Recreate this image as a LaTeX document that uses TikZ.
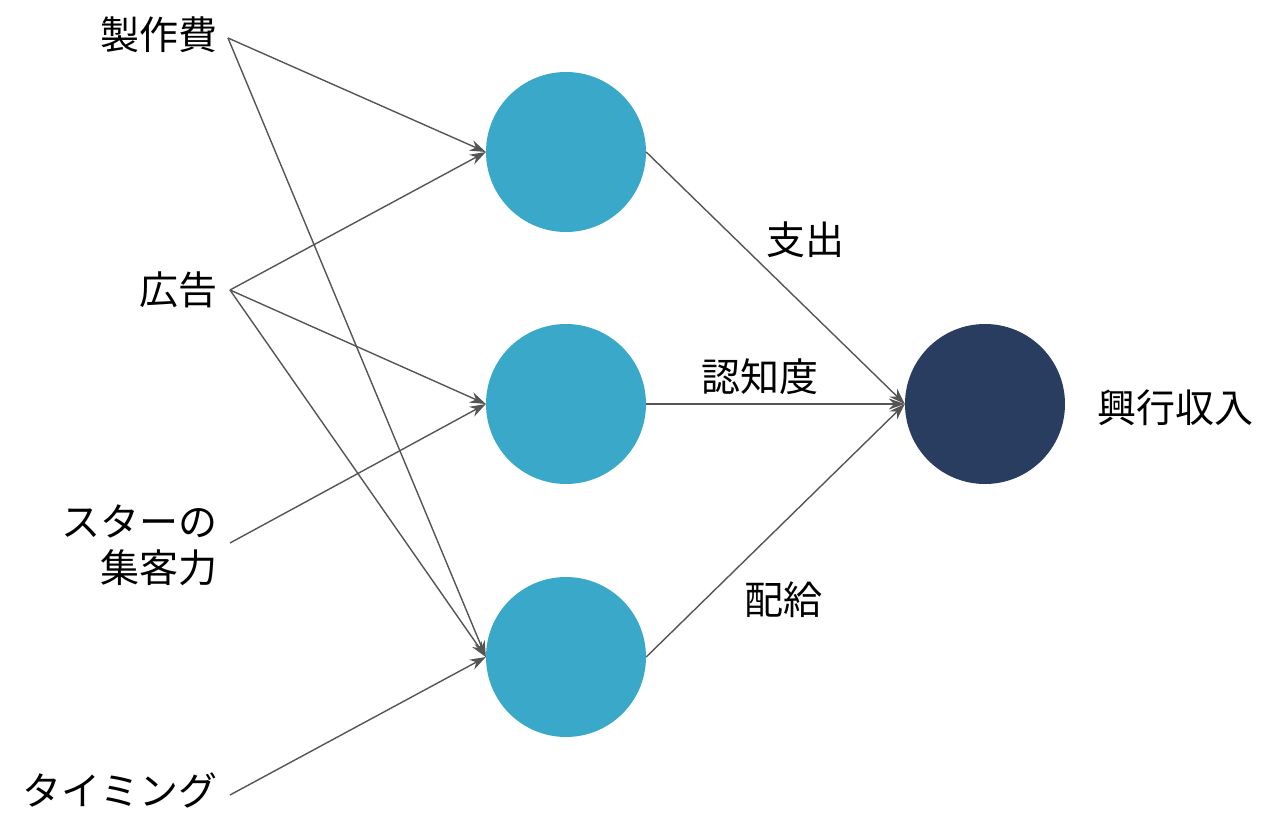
\documentclass[tikz,border=0pt]{standalone}
\usepackage{fontspec}
\setmainfont{Noto Sans CJK JP}
\usetikzlibrary{arrows.meta}
\definecolor{hidden}{HTML}{3AA8C8}
\definecolor{outc}{HTML}{283D5F}
\definecolor{edgec}{HTML}{555555}
\tikzset{
  unit/.style={circle, minimum size=160pt, inner sep=0pt},
  lbl/.style={font=\fontsize{39}{46}\selectfont, inner sep=0pt},
  conn/.style={-{Stealth[length=16pt,width=11pt]}, draw=edgec, line width=1.4pt}
}
\begin{document}
\begin{tikzpicture}[x=1pt,y=-1pt]
  \useasboundingbox (0,0) rectangle (1283,816);
  \node[unit, fill=hidden] (h1) at (566,152) {};
  \node[unit, fill=hidden] (h2) at (566,404) {};
  \node[unit, fill=hidden] (h3) at (566,657) {};
  \node[unit, fill=outc] (out) at (985,404) {};
  \node[lbl, anchor=east] (cost) at (218,35) {製作費};
  \node[lbl, anchor=east] (ad) at (218,290) {広告};
  \node[lbl, anchor=east, align=right] (star) at (218,545) {スターの\\集客力};
  \node[lbl, anchor=east] (time) at (218,790) {タイミング};
  \node[lbl] (rev) at (1175,408) {興行収入};
  \coordinate (cost-e) at (228,38);
  \coordinate (ad-e) at (230,290);
  \coordinate (star-e) at (230,543);
  \coordinate (time-e) at (230,795);
  \draw[conn] (cost-e) -- (h1.west);
  \draw[conn] (cost-e) -- (h3.west);
  \draw[conn] (ad-e) -- (h1.west);
  \draw[conn] (ad-e) -- (h2.west);
  \draw[conn] (ad-e) -- (h3.west);
  \draw[conn] (star-e) -- (h2.west);
  \draw[conn] (time-e) -- (h3.west);
  \draw[conn] (h1.east) -- (out.west);
  \draw[conn] (h2.east) -- (out.west);
  \draw[conn] (h3.east) -- (out.west);
  \node[lbl] (l1) at (805,240) {支出};
  \node[lbl] (l2) at (760,377) {認知度};
  \node[lbl] (l3) at (783,600) {配給};
\end{tikzpicture}
\end{document}
